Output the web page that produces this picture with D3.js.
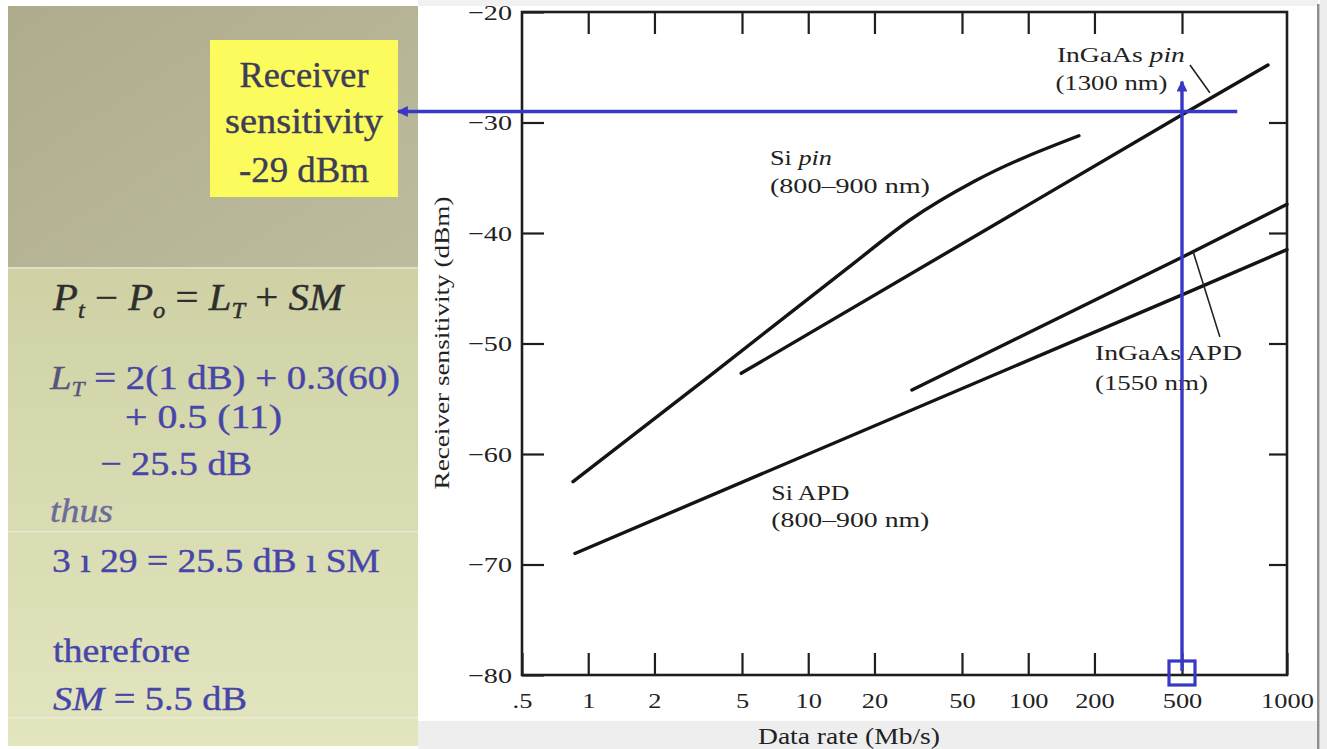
<!DOCTYPE html>
<html><head><meta charset="utf-8">
<script src="https://cdn.jsdelivr.net/npm/d3@7"></script>
<style>html,body{margin:0;padding:0;background:#fff;overflow:hidden}</style>
</head><body><svg id="c" width="1327" height="749"></svg>
<script>
// ---------------- data ----------------
const xTicks = [0.5, 1, 2, 5, 10, 20, 50, 100, 200, 500, 1000];
const xTickLabels = [".5", "1", "2", "5", "10", "20", "50", "100", "200", "500", "1000"];
const yTicks = [-20, -30, -40, -50, -60, -70, -80];
const yTickLabels = ["\u221220", "\u221230", "\u221240", "\u221250", "\u221260", "\u221270", "\u221280"];

const siPinRate = [0.853, 3.58, 15.5, 29.1, 57.2, 170];
const siPinSens = [-62.5, -52.9, -43.0, -38.8, -35.3, -31.2];
const ingaasPinRate = [4.96, 500, 882];
const ingaasPinSens = [-52.7, -29.3, -24.8];
const ingaasApdRate = [29.6, 500, 1000];
const ingaasApdSens = [-54.2, -42.2, -37.4];
const siApdRate = [0.87, 500, 1000];
const siApdSens = [-69.0, -45.6, -41.5];

// annotation values
const sensitivityValue = -29;     // dBm
const dataRateValue = 500;        // Mb/s
const hLineEndRate = 720;
const vArrowTopSens = -26.3;
const pinLeaderRate = [527, 601], pinLeaderSens = [-24.8, -27.3];
const apdLeaderRate = [642, 537], apdLeaderSens = [-49.4, -41.6];

const curveLabels = [
  {lines: [["Si ", false], ["pin", true]], rate: 6.7, sens: -33.85, w: 62},
  {lines: [["(800\u2013900 nm)", false]], rate: 6.7, sens: -36.4, w: 160},
  {lines: [["InGaAs ", false], ["pin", true]], rate: 135, sens: -24.5, w: 128},
  {lines: [["(1300 nm)", false]], rate: 133, sens: -27.1, w: 112},
  {lines: [["InGaAs APD", false]], rate: 201, sens: -51.5, w: 147},
  {lines: [["(1550 nm)", false]], rate: 201, sens: -54.2, w: 113},
  {lines: [["Si APD", false]], rate: 6.8, sens: -64.2, w: 78},
  {lines: [["(800\u2013900 nm)", false]], rate: 6.8, sens: -66.6, w: 158}
];

const boxLines = ["Receiver", "sensitivity", "-29 dBm"];

// ---------------- layout ----------------
const svg = d3.select("#c");
const L = 522, R = 1287, T = 12, B = 675;
const serif = "'Liberation Serif','Times New Roman',serif";

const x = d3.scaleLog().domain([0.5, 500, 1000]).range([L, 1182, R]);
const y = d3.scaleLinear().domain([-80, -20]).range([B, T]);

const defs = svg.append("defs");
const g1 = defs.append("linearGradient").attr("id", "gTop").attr("x1", 0).attr("x2", 1).attr("y1", 0).attr("y2", 1);
g1.append("stop").attr("offset", 0).attr("stop-color", "#aeac8c");
g1.append("stop").attr("offset", 1).attr("stop-color", "#bdbc9d");
const g2 = defs.append("linearGradient").attr("id", "gBot").attr("x1", 0).attr("x2", 0).attr("y1", 0).attr("y2", 1);
g2.append("stop").attr("offset", 0).attr("stop-color", "#cfd1a5");
g2.append("stop").attr("offset", 1).attr("stop-color", "#e3e5bf");
const blue = "#3838c6";
["arrL", "arrU"].forEach(id => {
  defs.append("marker").attr("id", id).attr("viewBox", "0 0 10 10").attr("refX", 9).attr("refY", 5)
    .attr("markerWidth", 4.2).attr("markerHeight", 3.2).attr("orient", "auto-start-reverse")
    .attr("markerUnits", "strokeWidth")
    .append("path").attr("d", "M0,0 L10,5 L0,10 Z").attr("fill", blue);
});

// backgrounds
svg.append("rect").attr("x", 0).attr("y", 0).attr("width", 1327).attr("height", 749).attr("fill", "#fff");
svg.append("rect").attr("x", 418).attr("y", 0).attr("width", 900).attr("height", 6).attr("fill", "#f1f1f1");
svg.append("rect").attr("x", 418).attr("y", 721).attr("width", 900).attr("height", 28).attr("fill", "#eeeeee");
svg.append("rect").attr("x", 1320).attr("y", 0).attr("width", 7).attr("height", 749).attr("fill", "#ededed");
svg.append("rect").attr("x", 1317).attr("y", 4).attr("width", 2.5).attr("height", 745).attr("fill", "#8e8e8e");
svg.append("rect").attr("x", 8).attr("y", 6).attr("width", 410).attr("height", 262).attr("fill", "url(#gTop)");
svg.append("rect").attr("x", 8).attr("y", 268).attr("width", 410).attr("height", 478).attr("fill", "url(#gBot)");
svg.append("rect").attr("x", 8).attr("y", 267).attr("width", 410).attr("height", 2).attr("fill", "#dedfc4");
svg.append("rect").attr("x", 8).attr("y", 531).attr("width", 410).attr("height", 1.5).attr("fill", "#e6e8cf");
svg.append("rect").attr("x", 8).attr("y", 717).attr("width", 410).attr("height", 1.5).attr("fill", "#eceed6");

function fit(sel, w) { sel.attr("textLength", w).attr("lengthAdjust", "spacingAndGlyphs"); }
function stretch(sel, f) {
  sel.each(function () {
    const w = this.getComputedTextLength();
    d3.select(this).attr("textLength", w * f).attr("lengthAdjust", "spacingAndGlyphs");
  });
}

// yellow box
svg.append("rect").attr("x", 210).attr("y", 40).attr("width", 188).attr("height", 157).attr("fill", "#fbfb5e");
const boxBase = [87, 133, 182], boxW = [129, 158, 130];
boxLines.forEach((t, i) => {
  svg.append("text").attr("x", 304).attr("y", boxBase[i]).attr("text-anchor", "middle")
    .attr("font-family", serif).attr("font-size", 36).attr("fill", "#3d3d58")
    .attr("stroke", "#3d3d58").attr("stroke-width", 0.4).text(t)
    .call(fit, boxW[i]);
});

// left formulas
function formula(parts, xx, yy, size, w, color) {
  const t = svg.append("text").attr("x", xx).attr("y", yy).attr("font-family", serif)
    .attr("font-size", size).attr("fill", color).attr("stroke", color).attr("stroke-width", 0.4);
  parts.forEach(p => {
    const s = t.append("tspan").text(p.t);
    if (p.i) s.attr("font-style", "italic");
    if (p.c) s.attr("fill", p.c).attr("stroke", p.c);
    if (p.sub) s.attr("font-size", size * 0.6).attr("dy", size * 0.22);
    if (p.up) s.attr("dy", -size * 0.22);
  });
  t.call(fit, w);
  return t;
}
const dark = "#2e2e2e", bl = "#4646aa";
formula([{t: "P", i: 1}, {t: "t", i: 1, sub: 1}, {t: " \u2212 ", up: 1}, {t: "P", i: 1}, {t: "o", i: 1, sub: 1},
  {t: " = ", up: 1}, {t: "L", i: 1}, {t: "T", i: 1, sub: 1}, {t: " + ", up: 1}, {t: "SM", i: 1}], 53, 310, 37, 290, dark);
formula([{t: "L", i: 1, c: "#55557a"}, {t: "T", i: 1, sub: 1, c: "#55557a"}, {t: " = 2(1 dB) + 0.3(60)", up: 1}], 50, 389, 34, 350, bl);
formula([{t: "+ 0.5 (11)"}], 125, 428, 34, 157, bl);
formula([{t: "\u2212 25.5 dB"}], 100, 475, 34, 152, bl);
formula([{t: "thus", i: 1}], 50, 522, 34, 63, "#6c6c98");
formula([{t: "3 \u0131 29 = 25.5 dB \u0131 SM"}], 52, 572, 34, 328, bl);
formula([{t: "therefore"}], 53, 662, 34, 137, bl);
formula([{t: "SM", i: 1}, {t: " = 5.5 dB"}], 53, 710, 34, 194, bl);

// ---------------- chart ----------------
const axStyle = g => {
  g.select(".domain").remove();
  g.selectAll(".tick line").attr("stroke", "#1e1e1e").attr("stroke-width", 2.2);
  g.selectAll("text").attr("font-family", serif).attr("font-size", 22).attr("fill", "#222");
};
svg.append("g").attr("transform", `translate(0,${B})`)
  .call(d3.axisBottom(x).tickValues(xTicks).tickFormat((d, i) => xTickLabels[i]).tickSizeInner(-22).tickSizeOuter(0).tickPadding(17))
  .call(axStyle).call(g => stretch(g.selectAll("text"), 1.2));
svg.append("g").attr("transform", `translate(${L},0)`)
  .call(d3.axisLeft(y).tickValues(yTicks).tickFormat((d, i) => yTickLabels[i]).tickSizeInner(-22).tickSizeOuter(0).tickPadding(10))
  .call(axStyle).call(g => stretch(g.selectAll("text"), 1.28));
svg.append("g").attr("transform", `translate(0,${T})`)
  .call(d3.axisTop(x).tickValues(xTicks.slice(1, -1)).tickFormat("").tickSizeInner(-22).tickSizeOuter(0))
  .call(axStyle);
svg.append("g").attr("transform", `translate(${R},0)`)
  .call(d3.axisRight(y).tickValues(yTicks.slice(1, -1)).tickFormat("").tickSizeInner(-18).tickSizeOuter(0))
  .call(axStyle);
svg.append("rect").attr("x", L).attr("y", T).attr("width", R - L).attr("height", B - T)
  .attr("fill", "none").attr("stroke", "#1e1e1e").attr("stroke-width", 2.6);

// axis titles
svg.append("text").attr("x", 849).attr("y", 744).attr("text-anchor", "middle")
  .attr("font-family", serif).attr("font-size", 23).attr("fill", "#222").text("Data rate (Mb/s)").call(fit, 182);
svg.append("text").attr("transform", "translate(449,343) rotate(-90)").attr("text-anchor", "middle")
  .attr("font-family", serif).attr("font-size", 22).attr("fill", "#222").text("Receiver sensitivity (dBm)").call(fit, 293);

// curves
const series = [
  {rate: siPinRate, sens: siPinSens, curve: d3.curveMonotoneX},
  {rate: ingaasPinRate, sens: ingaasPinSens, curve: d3.curveLinear},
  {rate: ingaasApdRate, sens: ingaasApdSens, curve: d3.curveLinear},
  {rate: siApdRate, sens: siApdSens, curve: d3.curveLinear}
];
series.forEach(s => {
  const pts = s.rate.map((r, i) => [r, s.sens[i]]);
  svg.append("path").attr("d", d3.line().x(d => x(d[0])).y(d => y(d[1])).curve(s.curve)(pts))
    .attr("fill", "none").attr("stroke", "#141414").attr("stroke-width", 3.4).attr("stroke-linecap", "round");
});

// leaders
[[pinLeaderRate, pinLeaderSens], [apdLeaderRate, apdLeaderSens]].forEach(([r, s]) => {
  svg.append("line").attr("x1", x(r[0])).attr("y1", y(s[0])).attr("x2", x(r[1])).attr("y2", y(s[1]))
    .attr("stroke", "#222").attr("stroke-width", 1.6);
});

// curve labels
curveLabels.forEach(l => {
  const t = svg.append("text").attr("x", x(l.rate)).attr("y", y(l.sens))
    .attr("font-family", serif).attr("font-size", 21).attr("fill", "#222");
  l.lines.forEach(p => { const s = t.append("tspan").text(p[0]); if (p[1]) s.attr("font-style", "italic"); });
  t.call(fit, l.w);
});

// blue annotation
svg.append("line").attr("x1", x(hLineEndRate)).attr("y1", y(sensitivityValue))
  .attr("x2", 398).attr("y2", y(sensitivityValue))
  .attr("stroke", blue).attr("stroke-width", 3.4).attr("marker-end", "url(#arrL)");
svg.append("line").attr("x1", x(dataRateValue)).attr("y1", y(-80) - 4)
  .attr("x2", x(dataRateValue)).attr("y2", y(vArrowTopSens))
  .attr("stroke", blue).attr("stroke-width", 3.4).attr("marker-end", "url(#arrU)");
svg.append("rect").attr("x", x(dataRateValue) - 13).attr("y", y(-80) - 14).attr("width", 26).attr("height", 24)
  .attr("fill", "none").attr("stroke", blue).attr("stroke-width", 3.2);
</script></body></html>
